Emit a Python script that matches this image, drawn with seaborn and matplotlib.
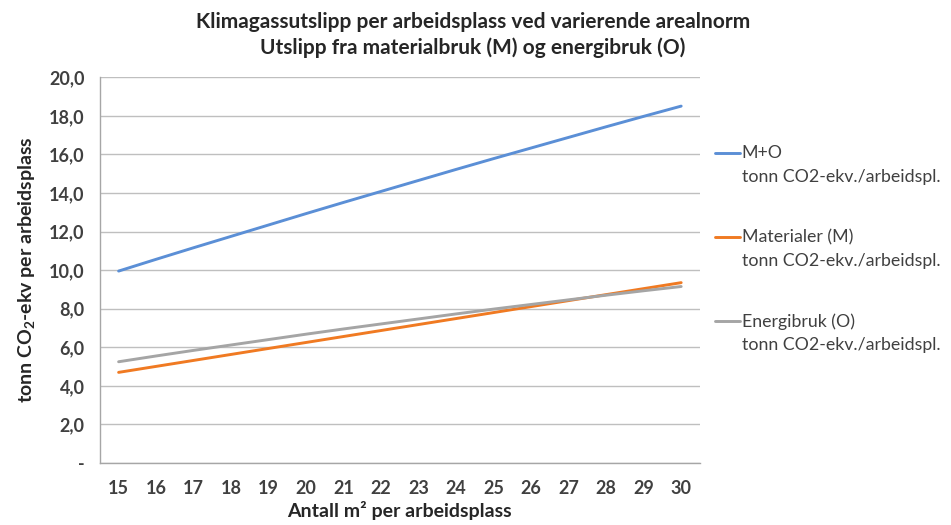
import numpy as np
import pandas as pd
import matplotlib
matplotlib.use("Agg")
import matplotlib.pyplot as plt
from matplotlib.lines import Line2D
from matplotlib.ticker import FixedLocator, FuncFormatter
import seaborn as sns

# --- data ---
areal = [15, 16, 17, 18, 19, 20, 21, 22, 23, 24, 25, 26, 27, 28, 29, 30]
materialer = [4.7, 5.01, 5.32, 5.63, 5.94, 6.25, 6.56, 6.87, 7.18, 7.49, 7.8, 8.11, 8.42, 8.73, 9.04, 9.35]
energibruk = [5.25, 5.55, 5.84, 6.12, 6.4, 6.68, 6.95, 7.21, 7.47, 7.73, 7.98, 8.22, 8.46, 8.7, 8.93, 9.15]
m_pluss_o = [9.95, 10.56, 11.16, 11.75, 12.34, 12.93, 13.51, 14.08, 14.65, 15.22, 15.78, 16.33, 16.88, 17.43, 17.97, 18.5]

series = ["M+O", "Materialer (M)", "Energibruk (O)"]
colors = {"M+O": "#5b8fd6", "Materialer (M)": "#f07a22", "Energibruk (O)": "#a5a5a5"}
unit = "tonn CO2-ekv./arbeidspl."

df = pd.DataFrame({
    "areal": areal * 3,
    "verdi": m_pluss_o + materialer + energibruk,
    "serie": [series[0]] * 16 + [series[1]] * 16 + [series[2]] * 16,
})

sns.set_style("white")
plt.rcParams["font.family"] = ["Lato", "DejaVu Sans"]
plt.rcParams["mathtext.fontset"] = "custom"
plt.rcParams["mathtext.rm"] = "Lato"
plt.rcParams["mathtext.bf"] = "Lato:bold"

fig = plt.figure(figsize=(9.51, 5.25), dpi=100)
ax = fig.add_axes([0.105, 0.118, 0.631, 0.735])

sns.lineplot(data=df, x="areal", y="verdi", hue="serie", palette=colors,
             hue_order=series, linewidth=2.1, legend=False, ax=ax)

# y axis like Excel: comma decimals, dash for zero
ax.set_ylim(0, 20)
ax.set_yticks(np.arange(0, 21, 2))
ax.yaxis.set_major_formatter(FuncFormatter(lambda v, p: "-" if v == 0 else f"{v:.1f}".replace(".", ",")))
ax.grid(axis="y", color="#bfbfbf", linewidth=1.0)
ax.set_axisbelow(True)

# category axis: labels at integers, tick marks between categories
ax.set_xlim(14.5, 30.5)
ax.set_xticks(areal)
ax.xaxis.set_minor_locator(FixedLocator(np.arange(14.5, 31, 1)))
ax.tick_params(axis="x", which="major", length=0, pad=12, labelsize=13, labelcolor="#404040")
ax.tick_params(axis="x", which="minor", length=5, color="#a6a6a6", direction="out")
ax.tick_params(axis="y", length=5, color="#a6a6a6", direction="out", labelsize=13, labelcolor="#404040", pad=6)
for lab in ax.get_xticklabels() + ax.get_yticklabels():
    lab.set_fontweight("bold")

for side in ["top", "right"]:
    ax.spines[side].set_visible(False)
for side in ["left", "bottom"]:
    ax.spines[side].set_color("#a6a6a6")
    ax.spines[side].set_linewidth(1.0)

ax.set_xlabel("Antall m² per arbeidsplass", fontsize=14, fontweight="bold", color="#262626", labelpad=3)
ax.set_ylabel("tonn CO$_\\mathbf{2}$-ekv per arbeidsplass", fontsize=14, fontweight="bold",
              color="#262626", labelpad=8)

fig.text(0.497, 0.958, "Klimagassutslipp per arbeidsplass ved varierende arealnorm",
         ha="center", va="center", fontsize=15, fontweight="bold", color="#262626")
fig.text(0.497, 0.91, "Utslipp fra materialbruk (M) og energibruk (O)",
         ha="center", va="center", fontsize=15, fontweight="bold", color="#262626")

# legend on the right, handle next to the first line of each entry
legend_y = [0.708, 0.548, 0.388]
for name, yy in zip(series, legend_y):
    fig.add_artist(Line2D([0.752, 0.778], [yy, yy], color=colors[name], linewidth=2.1,
                          transform=fig.transFigure))
    fig.text(0.780, yy, name, ha="left", va="center", fontsize=12.8, color="#404040")
    fig.text(0.780, yy - 0.045, unit, ha="left", va="center", fontsize=12.8, color="#404040")

fig.savefig("out.png", dpi=100, facecolor="white")
